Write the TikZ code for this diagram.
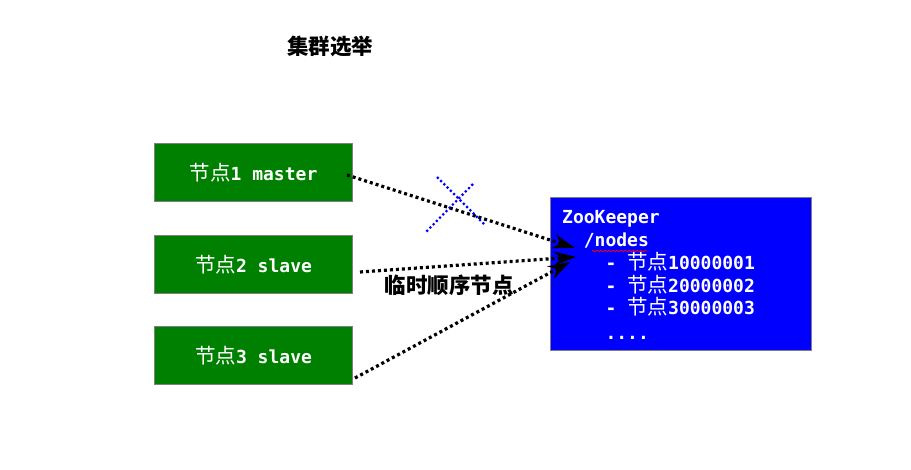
\documentclass[tikz,border=0pt]{standalone}
\usepackage{fontspec}
\setmonofont{DejaVu Sans Mono}
\newfontfamily\cjk{Noto Sans CJK SC}
\usetikzlibrary{arrows.meta,decorations.pathmorphing}
\newcommand\mb{\ttfamily\bfseries}
\newcommand\cj[1]{{\cjk\mdseries\fontsize{20.5}{22}\selectfont #1}}
\begin{document}
\begin{tikzpicture}[x=1pt,y=-1pt,
  greenbox/.style={draw=gray,fill=green!50!black,line width=1pt,minimum width=198pt,minimum height=58pt,inner sep=0pt,text=white,font=\fontsize{18}{22}\selectfont},
  zkbox/.style={draw=gray,fill=blue,line width=1pt,minimum width=261pt,minimum height=153pt,inner sep=0pt,anchor=north west},
  conn/.style={line width=3.2pt,dash pattern=on 3pt off 3pt,-{Stealth[length=22pt,width=14pt]},black},
  crossline/.style={blue,line width=2.2pt,dash pattern=on 2.2pt off 2.4pt}]
\useasboundingbox (0,0) rectangle (911,470);
\node (title) at (330,46) {\cjk\bfseries\fontsize{21.5}{24}\selectfont 集群选举};
\node[greenbox] (n1) at (253.5,173) {\cj{节点}\mb 1 master};
\node[greenbox] (n2) at (253.5,265) {\cj{节点}\mb 2 slave};
\node[greenbox] (n3) at (253.5,356) {\cj{节点}\mb 3 slave};
\node[zkbox] (zk) at (550,197) {};
\node[anchor=north west,align=left,text=white,inner sep=0pt,font=\fontsize{18}{22.9}\selectfont\mb] (zkt) at ([shift={(12,13)}]zk.north west)
  {ZooKeeper\\ \hphantom{xx}/nodes\\ \hphantom{xxxx}- \cj{节点}10000001\\ \hphantom{xxxx}- \cj{节点}20000002\\ \hphantom{xxxx}- \cj{节点}30000003\\[2pt] \hphantom{xxxx}....};
\coordinate (u1) at (592,251);
\coordinate (u2) at (647,251);
\draw[red,line width=0.8pt,decorate,decoration={snake,amplitude=0.7pt,segment length=4pt}] (u1) -- (u2);
\coordinate (a1) at ([shift={(-6,2)}]n1.east);
\coordinate (a2) at ([shift={(7,7)}]n2.east);
\coordinate (a3) at ([shift={(2,22)}]n3.east);
\coordinate (t1) at (575,248);
\coordinate (t2) at (576,257);
\coordinate (t3) at (570,262);
\draw[conn] (a1) -- (t1);
\draw[conn] (a2) -- (t2);
\draw[conn] (a3) -- (t3);
\coordinate (c1) at (437,177);
\coordinate (c2) at (485,225);
\coordinate (c3) at (473,184);
\coordinate (c4) at (425,233);
\draw[crossline] (c1) -- (c2);
\draw[crossline] (c3) -- (c4);
\node (lbl) at (449,285) {\cjk\bfseries\fontsize{21.5}{24}\selectfont 临时顺序节点};
\end{tikzpicture}
\end{document}
